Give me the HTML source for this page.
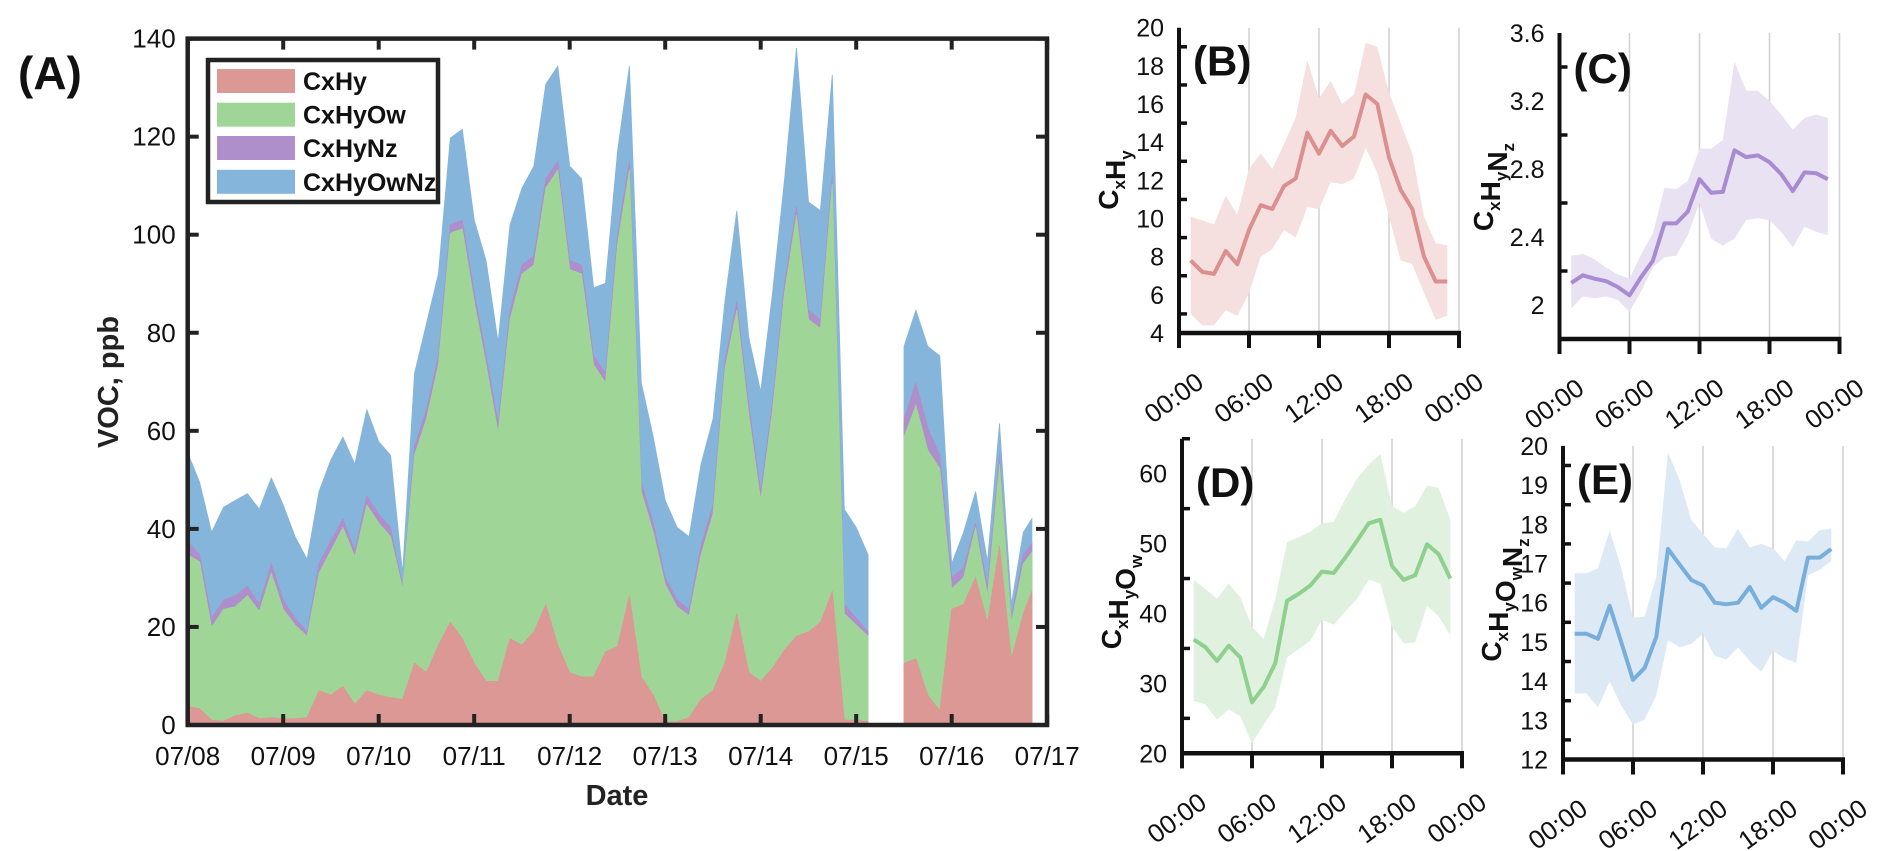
<!DOCTYPE html>
<html><head><meta charset="utf-8"><style>
html,body{margin:0;padding:0;background:#fff;}
svg{display:block;font-family:"Liberation Sans",Arial,sans-serif;}
</style></head><body>
<svg id="fig" width="1892" height="851" viewBox="0 0 1892 851" xmlns="http://www.w3.org/2000/svg"></svg>
<script>
// ---------- Panel A data (days since 07/08 00:00) ----------
const tA = [0,0.125,0.25,0.375,0.5,0.625,0.75,0.875,1,1.125,1.25,1.375,1.5,1.625,1.75,1.875,2,2.125,2.25,2.375,2.5,2.625,2.75,2.875,3,3.125,3.25,3.375,3.5,3.625,3.75,3.875,4,4.125,4.25,4.375,4.5,4.625,4.75,4.875,5,5.125,5.25,5.375,5.5,5.625,5.75,5.875,6,6.125,6.25,6.375,6.5,6.625,6.75,6.875,7,7.125,7.5,7.625,7.75,7.875,8,8.125,8.25,8.375,8.5,8.625,8.75,8.84];
const cxhy = [3.8,3.3,1.0,0.8,1.9,2.4,1.3,1.5,1.3,1.3,1.5,7.0,6.1,7.9,4.2,7.0,6.1,5.6,5.2,12.6,10.7,16.3,20.9,17.6,12.6,8.9,8.9,17.6,16.3,19.0,24.6,16.3,10.7,9.8,9.8,14.9,16,26.4,9.8,6.1,0.6,0.7,1.5,5.2,7.0,12.6,22.7,10.7,8.9,11.6,15.3,18.1,19.0,20.9,27.3,1.0,1.0,0.7,12.6,13.5,6.1,2.9,23.6,24.6,30.1,20.9,36.6,13.5,22.7,27.3];
const cxhyow = [30.9,30.0,18.9,22.8,22.2,24.0,21.9,29.5,22.3,19.1,16.6,24.0,29.5,32.4,30.1,37.9,35.1,32.8,22.6,42.4,51.7,57.2,79.4,83.6,73.8,64.6,50.7,65.1,75.7,74.8,84.9,96.9,82.2,82.2,63.7,54.9,82,86.8,37.8,33.2,28.1,23.4,20.8,29.5,36.0,60.0,61.9,52.6,36.9,52.7,73.0,85.9,63.7,60.0,83.1,21.7,19.4,17.4,46.1,51.7,49.9,49.4,4.2,5.5,10.2,5.5,16.6,7.4,10.2,7.9];
const cxhynz = [2.8,1.4,1.9,1.9,2.3,1.9,1.4,1.9,1.9,1.4,0.9,1.9,1.9,1.8,1.3,1.8,1.8,1.9,0.5,1.9,1.9,1.8,1.7,1.8,1.9,1.8,1.9,1.9,1.8,1.9,1.9,1.8,1.8,1.8,1.8,1.9,2,1.8,1.9,1.9,1.4,1.4,1.3,1.9,1.9,1.8,1.8,1.9,1.8,1.8,1.8,1.8,1.9,1.8,1.9,1.9,1.4,0.9,3.7,4.6,4.6,2.7,2.3,1.9,0.9,1.9,1.8,0.9,1.8,1.8];
const cxhyownz = [18.0,14.8,17.5,18.9,19.4,18.9,19.4,17.5,19.4,16.6,14.8,14.7,16.6,16.6,17.6,17.6,14.8,14.7,2.7,14.8,17.5,16.7,17.7,18.5,14.7,19.4,16.6,17.4,15.7,18.3,19.3,19.4,19.3,17.6,13.9,18.4,17,19.4,20.3,17.5,15.7,14.8,14.8,16.6,17.5,12.0,18.5,13.8,20.4,22.2,21.3,32.3,22.1,22.2,20.3,19.4,18.5,15.7,14.8,14.8,16.6,20.3,2.8,7.3,6.4,5.0,6.5,2.8,4.6,5.1];
const seriesNames = ['CxHy','CxHyOw','CxHyNz','CxHyOwNz'];
const dateTicks = ['07/08','07/09','07/10','07/11','07/12','07/13','07/14','07/15','07/16','07/17'];
const vocTicks = [0,20,40,60,80,100,120,140];

// ---------- Diurnal panels (hour of day) ----------
const hours = [1,2,3,4,5,6,7,8,9,10,11,12,13,14,15,16,17,18,19,20,21,22,23];
const bMean = [7.8,7.2,7.1,8.3,7.6,9.4,10.7,10.5,11.7,12.1,14.5,13.4,14.6,13.8,14.3,16.5,16.0,13.2,11.5,10.5,8.0,6.7,6.7];
const bHigh = [10.1,9.9,9.7,11.2,10.2,12.6,13.4,12.6,13.9,15.3,18.3,16.3,17.2,16.0,16.5,19.2,19.0,16.6,15.0,13.4,10.1,8.7,8.6];
const bLow  = [5.0,4.4,4.4,5.2,4.9,6.1,8.0,8.4,9.4,9.0,10.6,10.5,11.9,11.8,12.1,13.7,12.4,10.1,7.8,7.6,6.1,4.7,4.9];
const cMean = [2.13,2.175,2.155,2.14,2.106,2.057,2.165,2.26,2.48,2.48,2.55,2.74,2.66,2.665,2.91,2.87,2.88,2.84,2.77,2.67,2.78,2.775,2.74];
const cHigh = [2.29,2.30,2.27,2.22,2.18,2.155,2.30,2.42,2.69,2.68,2.73,2.92,2.92,2.97,3.43,3.26,3.26,3.20,3.12,3.03,3.10,3.12,3.10];
const cLow  = [1.98,2.05,2.04,2.05,2.03,1.96,2.08,2.22,2.28,2.29,2.41,2.60,2.39,2.35,2.39,2.50,2.51,2.50,2.43,2.34,2.46,2.43,2.41];
const dMean = [36.3,35.2,33.2,35.4,33.7,27.3,29.5,32.9,41.8,42.8,44.0,46.0,45.8,48.0,50.4,52.9,53.4,46.8,44.8,45.5,49.9,48.5,45.0];
const dHigh = [44.8,43.5,42.1,44.3,42.3,38.1,36.4,42.1,50.2,50.9,51.7,52.9,53.1,56.4,59.3,61.3,62.8,55.4,54.4,55.4,58.3,58.0,53.4];
const dLow  = [27.5,27.0,24.8,26.3,25.3,21.4,24.1,26.6,33.7,34.9,36.1,39.1,38.4,40.3,42.1,44.8,44.3,38.1,35.7,35.9,41.1,39.6,36.9];
const eMean = [15.21,15.21,15.08,15.92,14.99,14.03,14.34,15.13,17.37,16.97,16.58,16.44,16.0,15.96,16.0,16.4,15.87,16.14,16.0,15.79,17.15,17.15,17.37];
const eHigh = [16.75,16.75,16.88,17.85,16.88,15.61,15.65,16.66,19.83,19.12,18.11,17.76,17.41,17.39,17.89,17.41,17.5,17.39,17.06,17.59,17.56,17.85,17.89];
const eLow  = [13.68,13.69,13.33,13.99,13.37,12.89,13.02,13.63,15.04,14.86,14.95,15.21,14.64,14.55,14.86,14.51,14.24,14.77,14.58,14.47,16.7,16.84,17.06];
const timeTicks = ['00:00','06:00','12:00','18:00','00:00'];

const NS = 'http://www.w3.org/2000/svg';
const svg = document.getElementById('fig');
function mk(tag, attrs, parent) {
  const el = document.createElementNS(NS, tag);
  for (const k in attrs) el.setAttribute(k, attrs[k]);
  (parent || svg).appendChild(el);
  return el;
}
function txt(str, attrs, parent) { const t = mk('text', attrs, parent); t.textContent = str; return t; }

// ================= Panel A =================
const A = {x0:187.7, x1:1047, y0:725, y1:38.6};
const AX = t => A.x0 + 95.5 * t;
const AY = v => A.y0 - (A.y0 - A.y1) * v / 140;
const gA = mk('g', {});


const stackCols = ['#dc9894', '#9fd698', '#ae8fcb', '#86b5dc'];
const comps = [cxhy, cxhyow, cxhynz, cxhyownz];
const segs = [];
let cur = [0];
for (let i = 1; i < tA.length; i++) {
  if (tA[i] - tA[i-1] > 0.25) { segs.push(cur); cur = []; }
  cur.push(i);
}
segs.push(cur);
const cum = tA.map((_, i) => { let s = 0; return comps.map(c => (s += c[i])); });
for (let k = 3; k >= 0; k--) {
  segs.forEach(seg => {
    let d = '';
    seg.forEach((i, j) => { d += (j ? 'L' : 'M') + AX(tA[i]).toFixed(1) + ',' + AY(cum[i][k]).toFixed(1); });
    for (let j = seg.length - 1; j >= 0; j--) { const i = seg[j]; d += 'L' + AX(tA[i]).toFixed(1) + ',' + AY(0).toFixed(1); }
    const p = mk('path', {d: d + 'Z', fill: stackCols[k], stroke: stackCols[k], 'stroke-width': 0.8}, gA);
    
    
  });
}
const boxA = mk('rect', {x: A.x0, y: A.y1, width: A.x1 - A.x0, height: A.y0 - A.y1, fill: 'none', stroke: '#222', 'stroke-width': 4.5}, gA);


dateTicks.forEach((lab, i) => {
  const x = AX(i);
  mk('line', {x1: x, x2: x, y1: A.y0, y2: A.y0 - 11, stroke: '#222', 'stroke-width': 4}, gA);
  mk('line', {x1: x, x2: x, y1: A.y1, y2: A.y1 + 11, stroke: '#222', 'stroke-width': 4}, gA);
  const t = txt(lab, {x: x, y: A.y0 + 40, 'text-anchor': 'middle', 'font-size': 26, fill: '#111'}, gA);
  
  
});
vocTicks.forEach(v => {
  const y = AY(v);
  mk('line', {x1: A.x0, x2: A.x0 + 11, y1: y, y2: y, stroke: '#222', 'stroke-width': 4}, gA);
  mk('line', {x1: A.x1, x2: A.x1 - 11, y1: y, y2: y, stroke: '#222', 'stroke-width': 4}, gA);
  const t = txt(String(v), {x: A.x0 - 12, y: y + 9, 'text-anchor': 'end', 'font-size': 26, fill: '#111'}, gA);
  
  
});
const xTitle = txt('Date', {x: 617, y: 805, 'text-anchor': 'middle', 'font-size': 29, 'font-weight': 'bold', fill: '#222'}, gA);


const yTitle = txt('VOC, ppb', {x: 0, y: 0, 'text-anchor': 'middle', 'font-size': 29, 'font-weight': 'bold', fill: '#222', transform: 'translate(118,382) rotate(-90)'}, gA);


const labA = txt('(A)', {x: 18, y: 89, 'font-size': 46, 'font-weight': 'bold', fill: '#111'}, gA);


const gLeg = mk('g', {}, gA);


mk('rect', {x: 208, y: 60, width: 230, height: 142, fill: '#fff', stroke: '#222', 'stroke-width': 4.5}, gLeg);
const legY = [81, 114.7, 148, 181.8];
seriesNames.forEach((n, i) => {
  const ge = mk('g', {}, gLeg);
  
  
  mk('rect', {x: 217, y: legY[i] - 12, width: 78, height: 24, fill: stackCols[i]}, ge);
  txt(n, {x: 303, y: legY[i] + 9, 'font-size': 25, 'font-weight': 'bold', fill: '#111'}, ge);
});

// ================= Small panels =================
function panel(cfg) {
  const g = mk('g', {});
  
  
  const X = h => cfg.x0 + h * 70 / 6;
  const Y = v => cfg.yB - (v - cfg.vMin) * cfg.ppu;
  const yTop = Y(cfg.vMax);
  [6, 12, 18, 24].forEach(h => {
    const l = mk('line', {x1: X(h), x2: X(h), y1: yTop, y2: cfg.yB, stroke: '#d2d2d2', 'stroke-width': 1.6}, g);
    
    
  });
  let d = '';
  hours.forEach((h, i) => { d += (i ? 'L' : 'M') + X(h).toFixed(1) + ',' + Y(cfg.high[i]).toFixed(1); });
  for (let i = hours.length - 1; i >= 0; i--) d += 'L' + X(hours[i]).toFixed(1) + ',' + Y(cfg.low[i]).toFixed(1);
  const band = mk('path', {d: d + 'Z', fill: cfg.band}, g);
  
  
  const pts = hours.map((h, i) => X(h).toFixed(1) + ',' + Y(cfg.mean[i]).toFixed(1)).join(' ');
  const line = mk('polyline', {points: pts, fill: 'none', stroke: cfg.line, 'stroke-width': 4, 'stroke-linejoin': 'round'}, g);
  
  
  mk('line', {x1: cfg.x0, x2: cfg.x0, y1: yTop, y2: cfg.yB + 15, stroke: '#111', 'stroke-width': 4}, g);
  mk('line', {x1: cfg.x0 - 2, x2: X(24) + 2, y1: cfg.yB, y2: cfg.yB, stroke: '#111', 'stroke-width': 4.5}, g);
  timeTicks.forEach((lab, i) => {
    const x = X(i * 6);
    mk('line', {x1: x, x2: x, y1: cfg.yB, y2: cfg.yB + 15, stroke: '#111', 'stroke-width': 4}, g);
    const t = txt(lab, {x: 0, y: 0, 'text-anchor': 'middle', 'font-size': 26, fill: '#111', transform: 'translate(' + x + ',' + (cfg.yB + 72) + ') rotate(-36)'}, g);
    
    
  });
  cfg.labels.forEach(v => {
    const t = txt(cfg.fmt(v), {x: cfg.x0 - 15, y: Y(v) + 9, 'text-anchor': 'end', 'font-size': 25, fill: '#111'}, g);
    
    
  });
  cfg.minor.forEach(v => {
    mk('line', {x1: cfg.x0, x2: cfg.x0 + 8, y1: Y(v), y2: Y(v), stroke: '#111', 'stroke-width': 3.5}, g);
  });
  const yt = mk('text', {x: 0, y: 0, 'text-anchor': 'middle', 'font-size': 28, 'font-weight': 'bold', fill: '#111', transform: 'translate(' + cfg.tx + ',' + cfg.ty + ') rotate(-90)'}, g);
  
  
  cfg.title.forEach(([s, sub]) => {
    const ts = mk('tspan', {}, yt);
    ts.textContent = s;
    const sb = mk('tspan', {'font-size': 17, dy: 7}, yt);
    sb.textContent = sub;
    const back = mk('tspan', {'font-size': 28, dy: -7}, yt);
    back.textContent = '';
  });
  const pl = txt(cfg.plabel, {x: cfg.x0 + 14, y: yTop + cfg.plOff, 'font-size': 42, 'font-weight': 'bold', fill: '#111'}, g);
  
  
}
const f0 = v => String(v);
const f1 = v => (v === 2 ? '2' : v.toFixed(1));
panel({name: 'panel-b-cxhy', x0: 1179, yB: 333, vMin: 4, vMax: 20, ppu: 19.08, mean: bMean, high: bHigh, low: bLow,
  line: '#dc8f8f', band: '#f6dfdf', labels: [4,6,8,10,12,14,16,18,20], minor: [5,7,9,11,13,15,17,19], fmt: f0,
  title: [['C','x'],['H','y']], tx: 1118, ty: 180, plabel: '(B)', plOff: 48});
panel({name: 'panel-c-cxhynz', x0: 1559.5, yB: 339, vMin: 1.8, vMax: 3.6, ppu: 170, mean: cMean, high: cHigh, low: cLow,
  line: '#a98bd2', band: '#e9e2f3', labels: [2,2.4,2.8,3.2,3.6], minor: [2.2,2.6,3.0,3.4], fmt: f1,
  title: [['C','x'],['H','y'],['N','z']], tx: 1493, ty: 187, plabel: '(C)', plOff: 50});
panel({name: 'panel-d-cxhyow', x0: 1182, yB: 753.3, vMin: 20, vMax: 65, ppu: 6.99, mean: dMean, high: dHigh, low: dLow,
  line: '#8fd08e', band: '#e0f2df', labels: [20,30,40,50,60], minor: [25,35,45,55,65], fmt: f0,
  title: [['C','x'],['H','y'],['O','w']], tx: 1121, ty: 602, plabel: '(D)', plOff: 58});
panel({name: 'panel-e-cxhyownz', x0: 1563, yB: 759.5, vMin: 12, vMax: 20, ppu: 39.2, mean: eMean, high: eHigh, low: eLow,
  line: '#78aedb', band: '#dde9f5', labels: [12,13,14,15,16,17,18,19,20], minor: [12.5,13.5,14.5,15.5,16.5,17.5,18.5,19.5], fmt: f0,
  title: [['C','x'],['H','y'],['O','w'],['N','z']], tx: 1501, ty: 600, plabel: '(E)', plOff: 48});
</script>
</body></html>
